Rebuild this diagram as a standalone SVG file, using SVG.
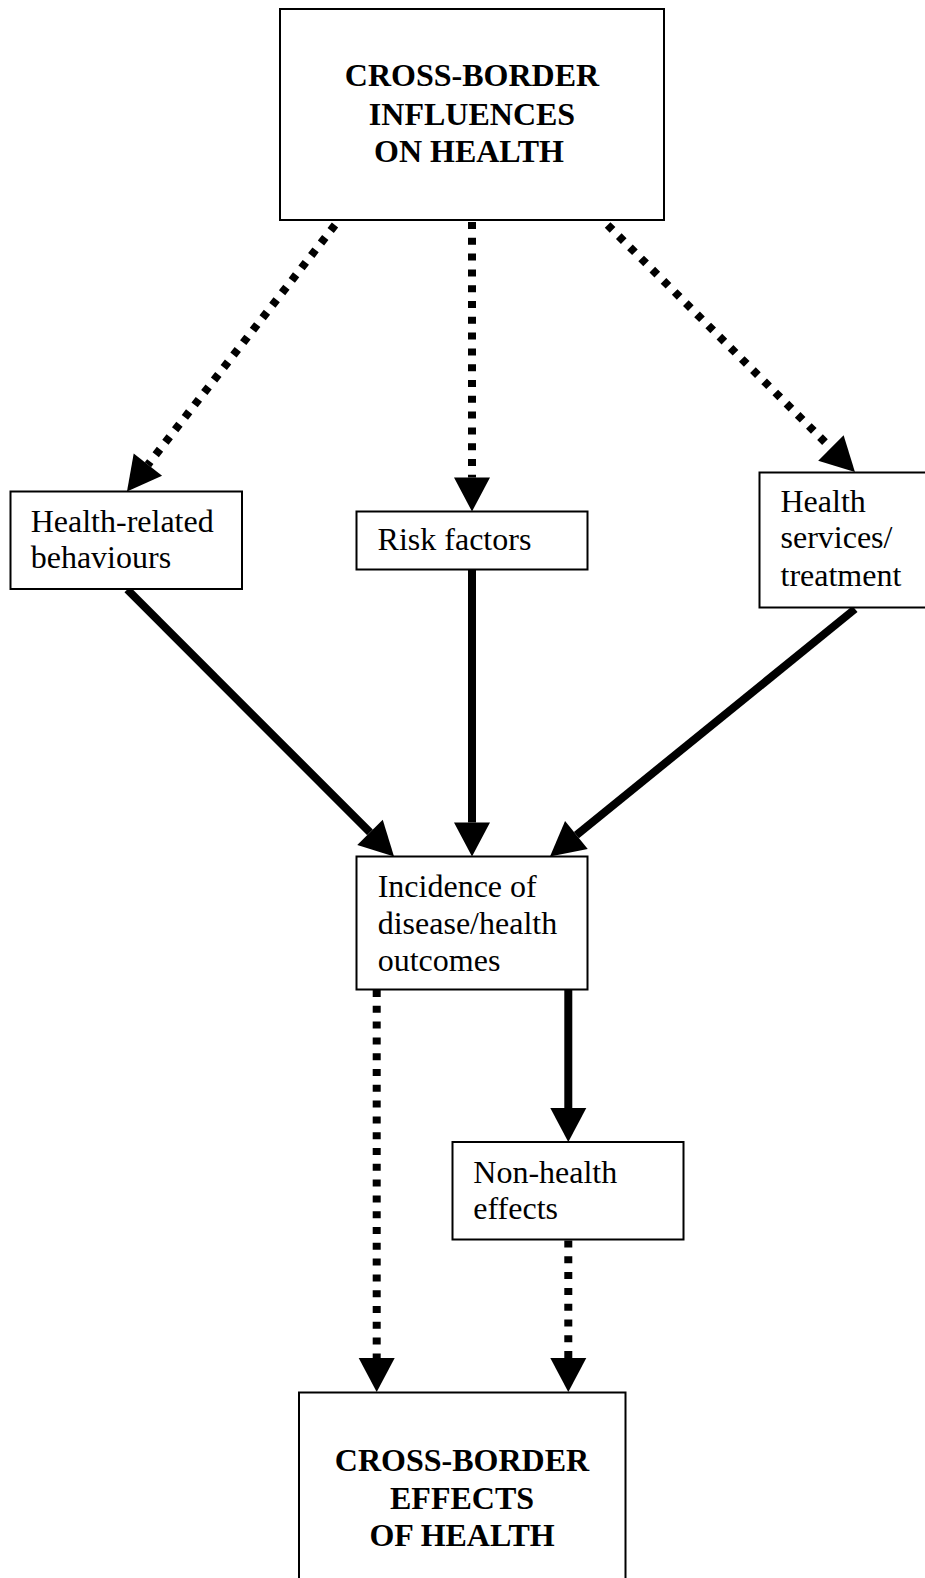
<svg xmlns="http://www.w3.org/2000/svg" width="925" height="1578" viewBox="0 0 925 1578">
<style>
.box{fill:#fff;stroke:#000;stroke-width:2}
.t{font-family:"Liberation Serif","Times New Roman",serif;font-size:32px;fill:#000}
.b{font-weight:bold;text-anchor:middle}
.solid{stroke:#000;stroke-width:8;fill:none}
.dot{stroke:#000;stroke-width:8;fill:none;stroke-dasharray:7 8.8}
</style>
<defs>
<marker id="ah" markerUnits="userSpaceOnUse" viewBox="0 -18 34 36" refX="0" refY="0" markerWidth="34" markerHeight="36" orient="auto" overflow="visible">
<path d="M0,-18 L34,0 L0,18 Z" fill="#000"/>
</marker>
</defs>
<rect width="925" height="1578" fill="#fff"/>
<g id="connectors">
<line class="dot" x1="335" y1="225" x2="147.9" y2="464.7" marker-end="url(#ah)"/>
<line class="dot" x1="472" y1="222" x2="472" y2="477.5" marker-end="url(#ah)"/>
<line class="dot" x1="607.6" y1="225" x2="830.9" y2="448" marker-end="url(#ah)"/>
<line class="solid" x1="127.3" y1="589.5" x2="370" y2="832.4" marker-end="url(#ah)"/>
<line class="solid" x1="472" y1="569.5" x2="472" y2="822.5" marker-end="url(#ah)"/>
<line class="solid" x1="855" y1="609" x2="576.4" y2="835.1" marker-end="url(#ah)"/>
<line class="dot" x1="376.7" y1="990" x2="376.7" y2="1358" marker-end="url(#ah)"/>
<line class="solid" x1="568.3" y1="989.5" x2="568.3" y2="1108" marker-end="url(#ah)"/>
<line class="dot" x1="568.3" y1="1240.5" x2="568.3" y2="1358" marker-end="url(#ah)"/>
</g>
<g id="influences">
<rect class="box" x="280" y="9" width="384" height="211"/>
<text class="t b" x="472" y="86">CROSS-BORDER</text>
<text class="t b" x="472" y="125">INFLUENCES</text>
<text class="t b" x="469" y="162">ON HEALTH</text>
</g>
<g id="behaviours">
<rect class="box" x="10.5" y="491.5" width="231.5" height="97.5"/>
<text class="t" x="30.7" y="531.7">Health-related</text>
<text class="t" x="30.7" y="568.3">behaviours</text>
</g>
<g id="risk">
<rect class="box" x="356.5" y="511.5" width="231" height="58"/>
<text class="t" x="377.6" y="550">Risk factors</text>
</g>
<g id="services">
<rect class="box" x="759.5" y="472.5" width="180" height="135"/>
<text class="t" x="780.5" y="511.7">Health</text>
<text class="t" x="780.5" y="548.3">services/</text>
<text class="t" x="780.5" y="585.7">treatment</text>
</g>
<g id="incidence">
<rect class="box" x="356.5" y="856.5" width="231" height="133"/>
<text class="t" x="377.7" y="896.7">Incidence of</text>
<text class="t" x="377.7" y="934">disease/health</text>
<text class="t" x="377.7" y="970.5">outcomes</text>
</g>
<g id="nonhealth">
<rect class="box" x="452.5" y="1142" width="231" height="97.5"/>
<text class="t" x="473.3" y="1182.7">Non-health</text>
<text class="t" x="473.3" y="1219.3">effects</text>
</g>
<g id="effects">
<rect class="box" x="299" y="1392.5" width="326.5" height="220"/>
<text class="t b" x="462" y="1470.7">CROSS-BORDER</text>
<text class="t b" x="462" y="1509.3">EFFECTS</text>
<text class="t b" x="462" y="1546">OF HEALTH</text>
</g>
</svg>
